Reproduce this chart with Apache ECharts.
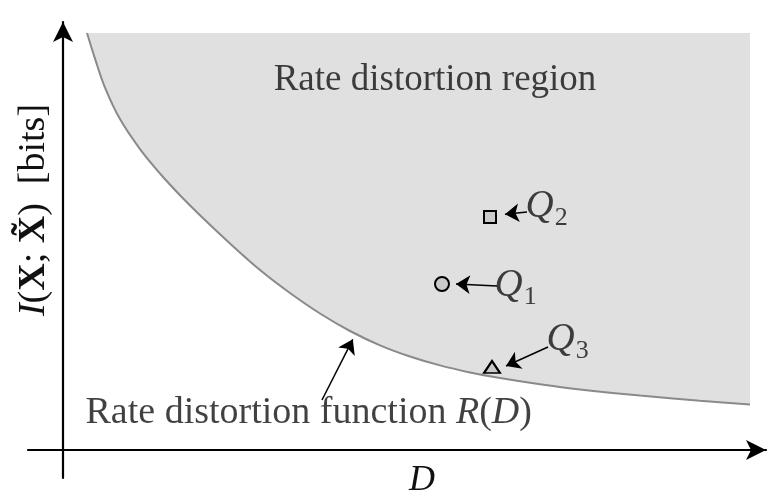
<!DOCTYPE html>
<html>
<head>
<meta charset="utf-8">
<script src="https://cdn.jsdelivr.net/npm/echarts@6/dist/echarts.min.js"></script>
<style>
  html, body { margin: 0; padding: 0; background: #ffffff; }
  #chart { width: 770px; height: 490px; }
</style>
</head>
<body>
<div id="chart"></div>
<script>
// Rate–distortion function R(D), sampled along the distortion axis
const curveD = [0.24, 0.32, 0.42, 0.57, 0.77, 0.97, 1.17, 1.37, 1.67, 1.97, 2.27, 2.57,
                2.87, 3.17, 3.47, 3.77, 4.07, 4.37, 4.77, 5.17, 5.77, 6.37, 6.87];
const curveR = [4.17, 3.914, 3.624, 3.309, 3.009, 2.765, 2.547, 2.347, 2.065, 1.80, 1.57, 1.365,
                1.19, 1.047, 0.935, 0.846, 0.776, 0.719, 0.657, 0.605, 0.544, 0.493, 0.455];
// Upper edge of the shaded achievable region
const regionTop = 4.17;

// Operating points Q1, Q2, Q3
const pointNames = ['Q1', 'Q2', 'Q3'];
const pointD = [3.79, 4.27, 4.29];
const pointR = [1.66, 2.33, 0.83];
const pointSymbols = ['circle', 'rect', 'triangle'];

// Where each Q label sits, and its arrow (tail -> head)
const qLabelD = [4.31, 4.62, 4.83];
const qLabelR = [1.64, 2.43, 1.10];
const qArrowFromD = [4.34, 4.64, 4.85];
const qArrowFromR = [1.64, 2.38, 1.03];
const qArrowToD = [3.93, 4.42, 4.43];
const qArrowToR = [1.66, 2.3575, 0.84];

// Caption for the curve and its arrow
const curveCaption = 'Rate distortion function ';
const curveCaptionAt = [0.22, 0.37];
const curveArrowFrom = [2.59, 0.50];
const curveArrowTo = [2.898, 1.107];

// Caption inside the shaded region
const regionCaption = 'Rate distortion region';
const regionCaptionAt = [3.72, 3.70];

// Axis extents (axes cross at the origin)
const dRange = [-0.35, 7.03];
const rRange = [-0.28, 4.28];

const serif = 'Liberation Serif';
const ink = '#111111';

const chart = echarts.init(document.getElementById('chart'), null, { renderer: 'canvas' });

const curveData = curveD.map((d, i) => [d, curveR[i]]);

const symbolSizes = { circle: 14, rect: 12, triangle: [16, 12] };
const markerData = pointNames.map((n, i) => ({
  name: n,
  value: [pointD[i], pointR[i]],
  symbol: pointSymbols[i],
  symbolSize: symbolSizes[pointSymbols[i]]
}));

const arrowData = pointNames.map((n, i) => ({
  coords: [[qArrowFromD[i], qArrowFromR[i]], [qArrowToD[i], qArrowToR[i]]]
}));
arrowData.push({ coords: [curveArrowFrom, curveArrowTo] });

const textRich = {
  n: { fontFamily: serif, fontSize: 37, color: ink },
  cap: { fontFamily: serif, fontSize: 38, color: ink },
  it: { fontFamily: serif, fontSize: 38, fontStyle: 'italic', color: ink },
  q: { fontFamily: serif, fontSize: 39, fontStyle: 'italic', color: ink },
  s: { fontFamily: serif, fontSize: 26, color: ink, padding: [22, 0, 0, 1] }
};

const labelData = [];
pointNames.forEach((n, i) => {
  labelData.push({
    value: [qLabelD[i], qLabelR[i]],
    label: {
      show: true, position: 'right', distance: 0,
      formatter: '{q|' + n.charAt(0) + '}{s|' + n.slice(1) + '}',
      rich: textRich
    }
  });
});
labelData.push({
  value: curveCaptionAt,
  label: {
    show: true, position: 'right', distance: 0,
    formatter: '{cap|' + curveCaption + '}{it|R}{cap|(}{it|D}{cap|)}',
    rich: textRich
  }
});
labelData.push({
  value: regionCaptionAt,
  label: {
    show: true, position: 'inside',
    formatter: '{n|' + regionCaption + '}',
    rich: textRich
  }
});

const option = {
  animation: false,
  backgroundColor: '#ffffff',
  grid: { left: 28, right: 4, top: 22, bottom: 12, containLabel: false, outerBoundsMode: 'none' },
  xAxis: {
    type: 'value', min: dRange[0], max: dRange[1],
    name: 'D', nameLocation: 'middle', nameGap: -15,
    nameTextStyle: { fontFamily: serif, fontStyle: 'italic', fontSize: 36, color: ink, padding: [0, 0, 0, 50] },
    axisLine: {
      show: true, onZero: true,
      symbol: ['none', 'arrow'], symbolSize: [15, 20],
      lineStyle: { color: '#000', width: 2.2 }
    },
    axisTick: { show: false }, axisLabel: { show: false }, splitLine: { show: false }
  },
  yAxis: {
    type: 'value', min: rRange[0], max: rRange[1],
    name: '{it|I}{n|(}{b|X}{n|; }{b|X\u0303}{n|)  [bits]}',
    nameLocation: 'middle', nameRotate: 90, nameGap: -25,
    nameTextStyle: {
      padding: [0, 0, 0, 80],
      rich: {
        n: { fontFamily: serif, fontSize: 38, color: ink },
        it: { fontFamily: serif, fontSize: 38, fontStyle: 'italic', color: ink },
        b: { fontFamily: serif, fontSize: 38, fontWeight: 'bold', color: ink }
      }
    },
    axisLine: {
      show: true, onZero: true,
      symbol: ['none', 'arrow'], symbolSize: [15, 20],
      lineStyle: { color: '#000', width: 2.2 }
    },
    axisTick: { show: false }, axisLabel: { show: false }, splitLine: { show: false }
  },
  series: [
    {
      name: 'R(D)', type: 'line', data: curveData,
      smooth: 0.35, showSymbol: false, silent: true,
      lineStyle: { color: '#8a8a8a', width: 2 },
      areaStyle: { color: '#e0e0e0', opacity: 1, origin: regionTop },
      z: 1
    },
    {
      name: 'arrows', type: 'lines', coordinateSystem: 'cartesian2d',
      symbol: ['none', 'arrow'], symbolSize: 14, silent: true,
      lineStyle: { color: '#000', width: 1.5, opacity: 1, curveness: 0 },
      data: arrowData, z: 4
    },
    {
      name: 'points', type: 'scatter', data: markerData, silent: true,
      itemStyle: { color: '#cacaca', borderColor: '#000', borderWidth: 2, opacity: 1 },
      z: 5
    },
    {
      name: 'captions', type: 'scatter', data: labelData, silent: true,
      symbolSize: 1, itemStyle: { color: 'rgba(0,0,0,0)' },
      z: 6
    }
  ]
};

chart.setOption(option);
</script>
</body>
</html>
